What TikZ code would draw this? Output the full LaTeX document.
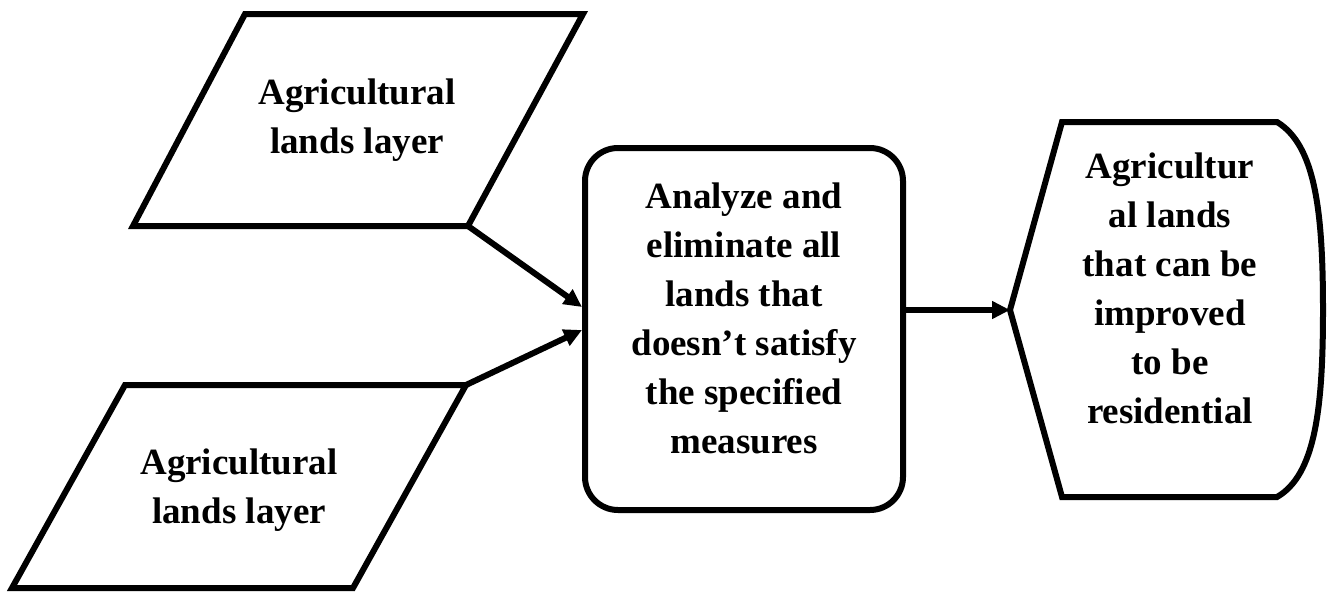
\documentclass[tikz,border=0pt]{standalone}
\usepackage{fontspec}
\setmainfont{Liberation Serif}
\usepackage{tikz}
\usetikzlibrary{arrows.meta,positioning}
\tikzset {
	outline/.style={draw, line width=6pt},
	label/.style={font=\fontsize{37}{49}\selectfont\bfseries, align=center, inner sep=0pt},
	process/.style={rectangle, draw, line width=6pt, rounded corners=33pt,
					minimum width=318pt, minimum height=362pt},
	flow/.style={line width=6pt, -{Triangle[length=18pt,width=17pt]}}
}
\begin{document}
\begin{tikzpicture}[x=1pt, y=-1pt]
					\useasboundingbox (0,0) rectangle (1331,592);
					% input layers
					\draw [outline] (245,14) -- (583,14) -- (468,226) -- (133,226) -- cycle;
					\node [label] (layerA) at (357,120) {Agricultural\\lands layer};
					\coordinate (layerAcorner) at (468,226);
					\draw [outline] (125,385) -- (466,385) -- (353,588) -- (12,588) -- cycle;
					\node [label] (layerB) at (239,490) {Agricultural\\lands layer};
					\coordinate (layerBcorner) at (466,385);
					% analysis step
					\node [process] (analyze) at (744,329) {};
					\node [label] (analyzeText) at (744,318) {Analyze and\\eliminate all\\lands that\\doesn’t satisfy\\the specified\\measures};
					\coordinate (inA) at ([yshift=22pt]analyze.west);
					\coordinate (inB) at ([yshift=-1pt]analyze.west);
					\coordinate (out) at ([yshift=19pt]analyze.east);
					% result display
					\draw [outline] (1010,310) -- (1062,122) -- (1277,122)
						.. controls (1315,145) and (1323,210) .. (1323,310)
						.. controls (1323,410) and (1315,475) .. (1277,497)
						-- (1062,497) -- cycle;
					\coordinate (resultTip) at (1010,310);
					\node [label] (result) at (1170,288) {Agricultur\\al lands\\that can be\\improved\\to be\\residential};
					% connectors
					\draw [flow] (layerAcorner) -- (inA);
					\draw [flow] (layerBcorner) -- (inB);
					\draw [flow] (out) -- (resultTip);
\end{tikzpicture}
\end{document}
